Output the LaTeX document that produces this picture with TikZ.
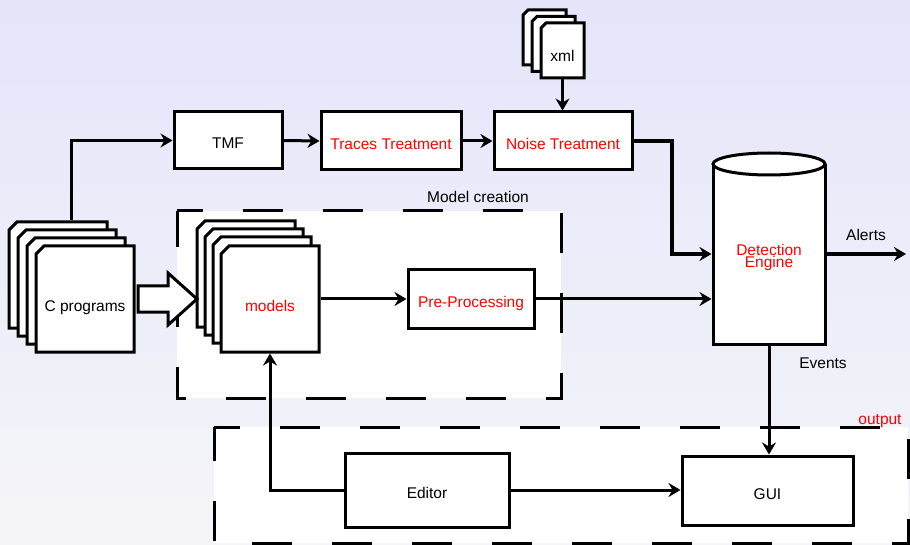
\documentclass[tikz,border=0pt]{standalone}
\usepackage{fontspec}
\setmainfont{Liberation Sans}
\usetikzlibrary{arrows.meta}

\definecolor{bgtop}{RGB}{229,229,250}
\definecolor{bgbot}{RGB}{245,245,249}
\definecolor{labred}{RGB}{255,0,0}
\definecolor{ink}{RGB}{0,0,0}

% document card with a clipped top-left corner: name, left, top, width, height, chamfer
\newcommand\docard[6]{%
  \draw[cardline] (#2+#6,#3) -- (#2+#4,#3) -- (#2+#4,#3+#5) -- (#2,#3+#5) -- (#2,#3+#6) -- cycle;
  \node[frame, minimum width=#4pt, minimum height=#5pt] (#1) at (#2+#4/2,#3+#5/2) {};}

\begin{document}
\begin{tikzpicture}[x=1pt, y=-1pt,
  font=\fontsize{15.5}{18}\selectfont,
  box/.style={draw=ink, line width=3pt, fill=white, inner sep=0pt, outer sep=1.5pt,
              text=ink, text height=17pt, text depth=0pt},
  redtxt/.style={text=labred},
  frame/.style={inner sep=0pt, outer sep=1.5pt},
  cardline/.style={draw=ink, fill=white, line width=3pt, line join=miter},
  cardtext/.style={inner sep=0pt, text height=17pt, text depth=0pt, text=ink},
  tag/.style={inner sep=0pt, text height=11pt, text depth=0pt, text=ink},
  conn/.style={draw=ink, line width=3pt, -{Stealth[length=12pt,width=14pt,inset=4pt]}},
  heavy/.style={line width=4pt},
  group/.style={draw=ink, fill=white, line width=3pt, dash pattern=on 40pt off 40pt, dash phase=14pt},
  blockarrow/.style={draw=ink, fill=white, line width=3pt, line join=miter}
]
\useasboundingbox (0,0) rectangle (910,545);
\shade[top color=bgtop, bottom color=bgbot] (0,0) rectangle (910,545);

% grouping frames
\path[group] (177,211) -- (561,211) -- (561,398) -- (177,398) -- cycle;
\path[group] (214,427) -- (908,427) -- (908,543) -- (214,543) -- cycle;
\node[tag] (mclabel) at (478,197) {Model creation};
\node[tag, redtxt] (outlabel) at (880,419) {output};

% source programs
\docard{cp1}{9}{222}{98}{106}{8}
\docard{cp2}{18}{230}{98}{106}{8}
\docard{cp3}{27}{238}{98}{106}{8}
\docard{cp4}{36}{246}{98}{106}{8}
\node[cardtext] (cptext) at ([yshift=-4pt]cp4.center) {C programs};

% model stack
\docard{mc1}{197}{221}{98}{106}{8}
\docard{mc2}{205}{229}{98}{106}{8}
\docard{mc3}{213}{237}{98}{106}{8}
\docard{models}{221}{246}{98}{106}{8}
\node[cardtext, redtxt] (modtext) at ([yshift=-4pt]models.center) {models};

% xml configuration files
\docard{xa}{523}{10}{43}{55}{5}
\docard{xb}{532}{16.5}{43}{55}{5}
\docard{xml}{541}{23}{43}{55}{5}
\node[cardtext] (xmltext) at ([yshift=-3pt]xml.center) {xml};

% processing chain
\node[box, minimum width=108pt, minimum height=57pt] (tmf) at (228,140.5) {TMF};
\node[box, redtxt, minimum width=140pt, minimum height=58pt] (trc) at (391,141) {Traces Treatment};
\node[box, redtxt, minimum width=138pt, minimum height=58pt] (noise) at (563,141) {Noise Treatment};
\node[box, redtxt, minimum width=126pt, minimum height=58pt] (pre) at (471,299) {Pre-Processing};
\node[box, minimum width=164pt, minimum height=74pt] (ed) at (427,490) {Editor};
\node[box, minimum width=171pt, minimum height=69pt] (gui) at (767.5,490.5) {GUI};

% detection engine cylinder
\draw[cardline] (713,164) -- (713,344) -- (825,344) -- (825,164);
\draw[cardline] (769,164) ellipse [x radius=56, y radius=11];
\node[frame, minimum width=112pt, minimum height=180pt] (det) at (769,254) {};
\node[redtxt, inner sep=0pt, align=center, font=\fontsize{15.5}{12}\selectfont] (dettext) at (769,257) {Detection\\Engine};

\node[tag] (alertlabel) at (866,235) {Alerts};
\node[tag] (eventlabel) at (823,363) {Events};
\coordinate (alertend) at (906,254);

% connectors
\draw[conn] ([xshift=13pt]cp1.north) |- (tmf.west);
\draw[conn] (tmf.east) -- (trc.west);
\draw[conn] (trc.east) -- (noise.west);
\draw[conn] (xml.south) -- (xml.south |- noise.north);
\draw[conn, heavy] (noise.east) -| ([xshift=-40pt]det.west) -- (det.west);
\draw[conn] (models.east) -- (pre.west);
\draw[conn] (pre.east) -- (pre.east -| det.west);
\draw[conn, heavy] (det.east) -- (alertend);
\draw[conn] (det.south) -- (det.south |- gui.north);
\draw[conn] (ed.east) -- (ed.east -| gui.west);
\draw[conn] (ed.west) -| (models.south);

% hollow block arrow from the programs to the models
\draw[blockarrow] ([xshift=2.5pt]cp4.east) -- ++(0,-13) -- ++(30,0) -- ++(0,-13)
  -- ++(29,26) -- ++(-29,26) -- ++(0,-13) -- ++(-30,0) -- cycle;
\end{tikzpicture}
\end{document}
